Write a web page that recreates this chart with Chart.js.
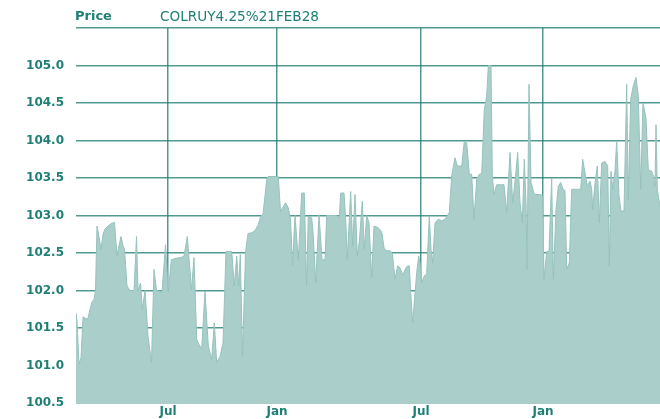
<!DOCTYPE html>
<html>
<head>
<meta charset="utf-8">
<script src="https://cdn.jsdelivr.net/npm/chart.js@4.4.1/dist/chart.umd.min.js"></script>
<style>
    html, body { margin: 0; padding: 0; background: #ffffff; }
    #wrap { position: relative; width: 660px; height: 419px; overflow: hidden; }
    #head { position: absolute; top: 8px; left: 0; height: 18px; font-family: "DejaVu Sans", Verdana, sans-serif; color: #1f7f74; }
    #head .lbl { position: absolute; left: 75px; font-weight: bold; font-size: 13px; }
    #head .isin { position: absolute; left: 160px; font-size: 13.6px; white-space: nowrap; }
</style>
</head>
<body>
<div id="wrap">
    <canvas id="priceCanvas" width="660" height="419"></canvas>
    <div id="head"><span class="lbl">Price</span><span class="isin">COLRUY4.25%21FEB28</span></div>
</div>
<script>
// trading session index (0 = first session shown)
const sessions = [
    0, 1, 3, 5, 7, 10, 12, 14, 16, 18,
    19.5, 21, 23, 25, 27, 29, 32, 35, 38.5, 41,
    43, 45, 47, 48.5, 51, 54, 58, 60.5, 62, 64.5,
    66.3, 69, 72, 75.5, 78, 80.5, 86, 89.5, 92.3, 95.3,
    100, 105, 108, 111.3, 115.5, 118, 120.7, 123, 125.7, 129,
    132.3, 135.7, 138.3, 140.7, 144, 147, 150, 155.7, 158.3, 160.7,
    162.7, 164.3, 166.5, 169.5, 172, 176, 179, 182.3, 184.7, 187,
    190.8, 192, 202.3, 204.5, 207.3, 209.5, 212.3, 214.5, 216.5, 219,
    222.3, 225.7, 228.3, 230.5, 232.3, 235.7, 237.3, 239.7, 243, 246,
    249, 250.7, 260.7, 263.3, 264.7, 268, 269.7, 271.3, 274.7, 276.7,
    279, 281.3, 283.3, 286.3, 288.3, 290.7, 293, 295.7, 298, 302,
    305.7, 308.3, 311, 314, 316.3, 319, 321.7, 324, 326.7, 330.7,
    333.3, 334.7, 336.7, 340.7, 342.7, 344, 345.7, 348, 350.7, 353.3,
    355, 356.7, 359, 362.3, 365.7, 369, 373.3, 375.7, 379, 381.3,
    385.7, 388.3, 390.7, 393.3, 395.7, 398, 400.7, 403.3, 405.7, 408.3,
    410.7, 412.3, 415, 416.3, 418, 420.7, 428, 430.7, 434, 436.7,
    439, 441.7, 444, 446.3, 448.3, 450, 451, 453, 455, 458.3,
    464, 466.7, 468, 470.7, 473, 475.7, 477.3, 480, 482.3, 484.7,
    487, 489, 490.7, 493.3, 495.7, 502.3, 504.7, 506.7, 509, 511.3,
    514, 515.7, 516.7, 519, 521.3, 523.3, 525.7, 529, 531.7, 533.3,
    535, 536.7, 539, 540.7, 543, 545, 548, 550.7, 552.3, 554.7,
    557.3, 560, 562.3, 564.7, 567, 570, 572.3, 575.7, 577.5, 579,
    580, 581.3, 584
];

const prices = [
    101.70, 101.60, 101.02, 101.10, 101.65, 101.62, 101.63, 101.75, 101.85, 101.88,
    102.00, 102.86, 102.72, 102.55, 102.75, 102.82, 102.86, 102.89, 102.91, 102.46,
    102.60, 102.72, 102.60, 102.55, 102.06, 102.00, 102.00, 102.72, 102.00, 102.10,
    101.75, 102.00, 101.39, 101.04, 102.28, 102.00, 101.98, 102.61, 101.98, 102.41,
    102.43, 102.44, 102.46, 102.72, 102.01, 102.44, 101.35, 101.28, 101.22, 101.99,
    101.26, 101.08, 101.57, 101.04, 101.12, 101.30, 102.52, 102.52, 102.06, 102.46,
    102.06, 102.48, 101.12, 102.50, 102.76, 102.77, 102.80, 102.88, 102.99, 103.02,
    103.48, 103.52, 103.52, 103.05, 103.12, 103.17, 103.10, 102.95, 102.33, 103.00,
    102.40, 103.30, 103.30, 102.06, 102.99, 102.97, 102.72, 102.10, 103.01, 102.41,
    102.41, 103.00, 103.00, 102.97, 103.30, 103.30, 102.95, 102.41, 103.32, 102.59,
    103.28, 102.46, 102.65, 103.19, 102.55, 103.00, 102.90, 102.17, 102.86, 102.84,
    102.78, 102.55, 102.53, 102.53, 102.50, 102.15, 102.33, 102.30, 102.21, 102.32,
    102.33, 101.97, 101.57, 102.24, 102.46, 102.37, 102.10, 102.19, 102.22, 102.99,
    102.55, 102.37, 102.90, 102.95, 102.93, 102.95, 103.04, 103.53, 103.77, 103.66,
    103.66, 103.99, 103.97, 103.55, 103.55, 102.95, 103.48, 103.55, 103.56, 104.41,
    104.59, 105.00, 105.00, 103.53, 103.28, 103.41, 103.41, 103.04, 103.84, 103.17,
    103.45, 103.84, 103.17, 102.90, 103.75, 103.17, 102.28, 104.75, 103.44, 103.28,
    103.28, 103.26, 102.15, 102.52, 102.52, 103.50, 102.15, 103.08, 103.39, 103.44,
    103.35, 103.33, 102.28, 102.37, 103.35, 103.35, 103.35, 103.75, 103.57, 103.39,
    103.46, 103.35, 103.08, 103.43, 103.66, 102.90, 103.70, 103.72, 103.66, 102.33,
    103.59, 103.35, 103.60, 103.99, 103.26, 103.06, 103.06, 104.75, 103.21, 104.55,
    104.73, 104.84, 104.60, 103.35, 104.50, 104.30, 103.61, 103.59, 103.52, 103.39,
    104.21, 103.35, 103.12
];

// month labels and the sessions where they sit
const monthLabels = ['Jul', 'Jan', 'Jul', 'Jan'];
const monthSessions = [92, 201, 345, 467];

const yTicksMin = 100.5;
const yTicksMax = 105.5;
const yTicksStep = 0.5;

let priceChart = null;

function create_Graph() {
    const points = sessions.map((s, i) => ({ x: s, y: prices[i] }));
    const textColor = '#1f7f74';
    const gridColor = 'rgba(38, 128, 118, 0.8)';
    const tickFont = { family: '"DejaVu Sans", Verdana, sans-serif', size: 12, weight: 'bold' };

    if (priceChart !== null) {
        priceChart.destroy();
    }

    const ctx = document.getElementById('priceCanvas').getContext('2d');
    priceChart = new Chart(ctx, {
        type: 'line',
        data: {
            datasets: [{
                label: 'Price',
                data: points,
                fill: 'start',
                backgroundColor: 'rgb(170, 206, 201)',
                borderColor: 'rgb(150, 194, 189)',
                borderWidth: 1,
                pointRadius: 0,
                tension: 0
            }]
        },
        options: {
            responsive: false,
            animation: false,
            layout: {
                padding: { top: 28, left: 0, right: 0, bottom: 0 }
            },
            plugins: {
                legend: { display: false },
                tooltip: { enabled: false }
            },
            scales: {
                x: {
                    type: 'linear',
                    min: sessions[0],
                    max: sessions[sessions.length - 1],
                    z: 1,
                    afterBuildTicks: (scale) => {
                        scale.ticks = monthSessions.map(v => ({ value: v }));
                    },
                    afterFit: (scale) => {
                        scale.height = 16;
                    },
                    ticks: {
                        autoSkip: false,
                        maxRotation: 0,
                        padding: 2,
                        color: textColor,
                        font: tickFont,
                        callback: (value) => {
                            const idx = monthSessions.indexOf(value);
                            return idx >= 0 ? monthLabels[idx] : '';
                        }
                    },
                    grid: {
                        color: gridColor,
                        lineWidth: 1.5,
                        drawTicks: false
                    },
                    border: { display: false }
                },
                y: {
                    min: yTicksMin,
                    max: yTicksMax,
                    z: 1,
                    afterFit: (scale) => {
                        scale.width = 76;
                        scale.paddingTop = 8;
                        scale.paddingBottom = 8;
                    },
                    ticks: {
                        stepSize: yTicksStep,
                        padding: 12,
                        color: textColor,
                        font: tickFont,
                        callback: (value) => value >= yTicksMax ? '' : value.toFixed(1)
                    },
                    grid: {
                        color: gridColor,
                        lineWidth: 1.5,
                        drawTicks: false
                    },
                    border: { display: false }
                }
            }
        }
    });
}

window.onload = create_Graph;
</script>
</body>
</html>
